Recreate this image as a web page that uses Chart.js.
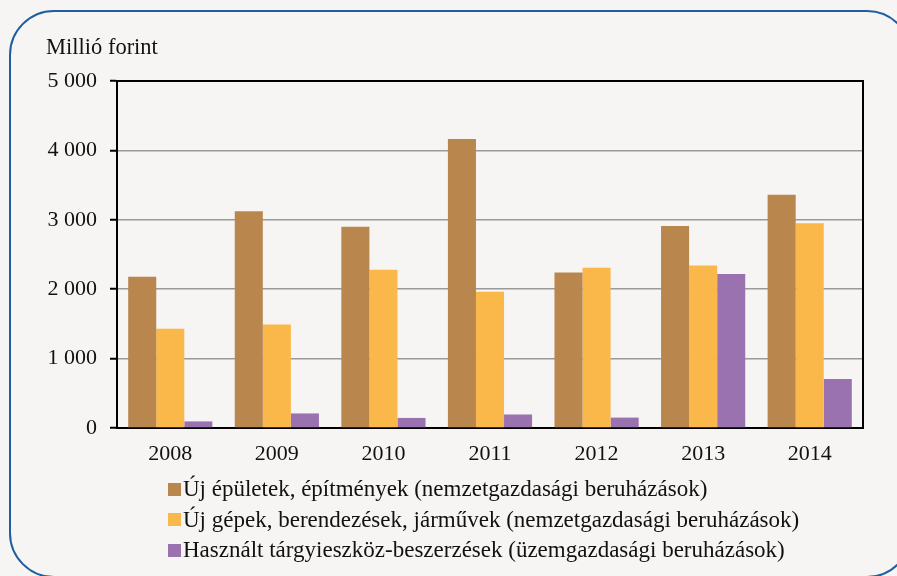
<!DOCTYPE html>
<html>
<head>
<meta charset="utf-8">
<style>
  html, body { margin: 0; padding: 0; background: #f6f5f3; overflow: hidden; }
  #wrap { position: relative; width: 897px; height: 576px; }
  #frame { position: absolute; left: 9px; top: 10px; width: 903px; height: 568px;
           border: 2px solid #1f5f9f; border-radius: 45px; box-sizing: border-box; }
  canvas { position: absolute; left: 0; top: 0; }
  #legend { position: absolute; left: 168px; top: 474px; font-family: "Liberation Serif", serif;
            font-size: 23px; color: #111; }
  #legend .row { height: 30.5px; display: flex; align-items: center; white-space: nowrap; }
  #legend .box { width: 13px; height: 13px; margin-right: 2px; flex: none; }
</style>
</head>
<body>
<div id="wrap">
  <div id="frame"></div>
  <canvas id="chart" width="897" height="576"></canvas>
  <div id="legend"></div>
</div>

<script src="https://cdn.jsdelivr.net/npm/chart.js"></script>
<script>
// adatok (millió forint)
const years = ['2008', '2009', '2010', '2011', '2012', '2013', '2014'];
const buildings = [2180, 3125, 2900, 4165, 2240, 2910, 3360];
const machinery = [1430, 1490, 2280, 1965, 2310, 2340, 2950];
const usedAssets = [95, 210, 145, 195, 150, 2220, 705];
const seriesNames = [
  'Új épületek, építmények (nemzetgazdasági beruházások)',
  'Új gépek, berendezések, járművek (nemzetgazdasági beruházások)',
  'Használt tárgyieszköz-beszerzések (üzemgazdasági beruházások)'
];
const seriesColors = ['#b9874e', '#fbb84a', '#9b72b0'];
const unitLabel = 'Millió forint';

const font = { family: '"Liberation Serif", serif', size: 22 };

// keret + mértékegység
const extras = {
  id: 'extras',
  afterDraw(chart) {
    const { ctx, chartArea: a } = chart;
    ctx.save();
    ctx.strokeStyle = '#000';
    ctx.lineWidth = 2;
    ctx.beginPath();
    ctx.moveTo(a.left, a.top);
    ctx.lineTo(a.right, a.top);
    ctx.lineTo(a.right, a.bottom);
    ctx.stroke();
    ctx.fillStyle = '#111';
    ctx.font = '22.5px "Liberation Serif", serif';
    ctx.textBaseline = 'alphabetic';
    ctx.fillText(unitLabel, a.left - 71, a.top - 27);
    ctx.restore();
  }
};

const chart = new Chart(document.getElementById('chart'), {
  type: 'bar',
  data: {
    labels: years,
    datasets: [
      { label: seriesNames[0], data: buildings, backgroundColor: seriesColors[0] },
      { label: seriesNames[1], data: machinery, backgroundColor: seriesColors[1] },
      { label: seriesNames[2], data: usedAssets, backgroundColor: seriesColors[2] }
    ]
  },
  options: {
    responsive: false,
    animation: false,
    devicePixelRatio: 1,
    layout: { padding: { left: 0, top: 81, right: 34, bottom: 108 } },
    datasets: { bar: { categoryPercentage: 0.79, barPercentage: 1, borderWidth: 0 } },
    plugins: { legend: { display: false }, tooltip: { enabled: false } },
    scales: {
      x: {
        grid: { display: false, drawTicks: false },
        border: { display: true, color: '#000', width: 2 },
        ticks: { color: '#111', font: font, padding: 13 },
        afterFit: s => { s.height = 40; }
      },
      y: {
        min: 0, max: 5000,
        ticks: {
          stepSize: 1000, color: '#111', font: font, padding: 13,
          callback: v => String(v).replace(/\B(?=(\d{3})+(?!\d))/g, ' ')
        },
        grid: {
          color: c => (c.tick && c.tick.value === 0) ? 'rgba(0,0,0,0)' : '#9a9a9a',
          lineWidth: 1.5,
          tickColor: '#000',
          tickLength: 7,
          tickWidth: 2
        },
        border: { display: true, color: '#000', width: 2 },
        afterFit: s => { s.width = 117; }
      }
    }
  },
  plugins: [extras]
});

// jelmagyarázat
const legend = document.getElementById('legend');
chart.data.datasets.forEach(ds => {
  const row = document.createElement('div');
  row.className = 'row';
  const box = document.createElement('span');
  box.className = 'box';
  box.style.background = ds.backgroundColor;
  const txt = document.createElement('span');
  txt.textContent = ds.label;
  row.appendChild(box);
  row.appendChild(txt);
  legend.appendChild(row);
});
</script>
</body>
</html>
